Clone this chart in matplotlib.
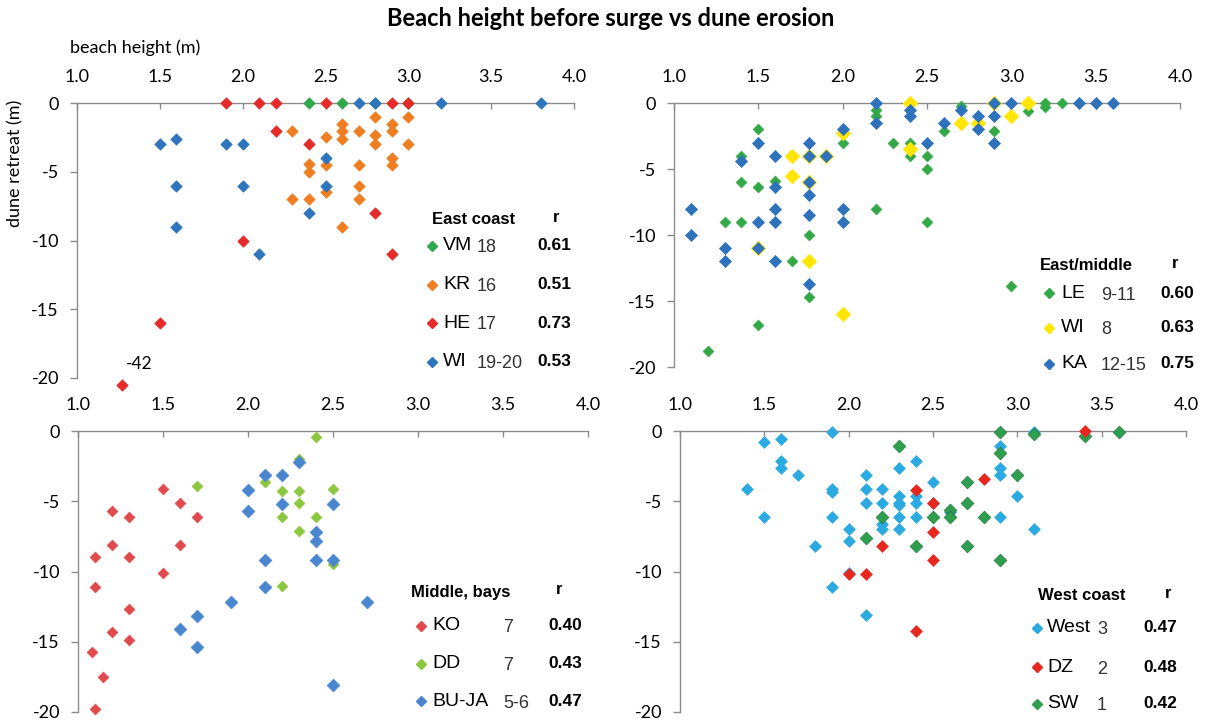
import matplotlib
matplotlib.use("Agg")
import matplotlib.pyplot as plt
from matplotlib.lines import Line2D

plt.rcParams['axes.unicode_minus'] = False
plt.rcParams['font.family'] = ['Lato', 'DejaVu Sans']

W, H = 1214, 723

# ---------------- data ----------------
x_ticks = [1.0, 1.5, 2.0, 2.5, 3.0, 3.5, 4.0]
x_tick_labels = ["1.0", "1.5", "2.0", "2.5", "3.0", "3.5", "4.0"]
y_ticks = [0, -5, -10, -15, -20]
y_tick_labels = ["0", "-5", "-10", "-15", "-20"]

# East coast
vm_x = [2.4, 2.6, 2.8, 3.0]
vm_y = [0, 0, 0, 0]
kr_x = [2.8, 2.9, 3.0, 2.6, 2.6, 2.6, 2.7, 2.3, 2.9, 2.8, 2.5, 2.8, 3.0, 2.4, 2.4, 2.5,
        2.7, 2.9, 2.9, 2.7, 2.7, 2.5, 2.3, 2.4, 2.6]
kr_y = [-1, -1.5, -1, -1.5, -2, -2.6, -2, -2, -2, -2.3, -2.5, -3, -3, -4.4, -5, -4.5,
        -4.5, -4, -4.5, -6, -7, -6.5, -7, -7, -9]
he_x = [1.9, 2.1, 2.2, 2.5, 2.9, 3.0, 2.2, 2.4, 2.8, 2.0, 2.9, 1.5, 1.27]
he_y = [0, 0, 0, 0, 0, 0, -2, -3, -8, -10, -11, -16, -20.5]
wi1_x = [2.7, 2.8, 3.2, 3.8, 1.5, 1.6, 1.9, 2.0, 1.6, 2.0, 1.6, 2.1, 2.5, 2.5, 2.4]
wi1_y = [0, 0, 0, 0, -3, -2.6, -3, -3, -6, -6, -9, -11, -4, -6, -8]

# East/middle
le_x = [1.5, 2.2, 2.2, 2.4, 2.3, 2.4, 2.5, 2.5, 2.0, 2.6, 2.7, 2.9, 3.1, 3.2, 3.2, 3.3,
        1.4, 1.4, 1.5, 1.6, 1.3, 1.4, 2.2, 2.5, 1.8, 1.7, 1.8, 1.5, 1.2, 3.0]
le_y = [-2, -0.5, -1, -3, -3, -4, -4, -5, -3, -2.1, -0.2, -2.1, -0.6, 0, -0.3, 0,
        -4, -6, -6.4, -5.9, -9, -9, -8, -9, -10, -12, -14.7, -16.8, -18.8, -13.9]
wi2_x = [2.4, 2.9, 3.1, 3.0, 2.7, 2.8, 2.0, 2.4, 1.7, 1.8, 1.9, 1.7, 1.8, 1.5, 1.8, 2.0]
wi2_y = [0, 0, 0, -1, -1.5, -1.5, -2.3, -3.5, -4, -4, -4, -5.5, -6, -11, -12, -16]
ka_x = [2.2, 2.2, 2.4, 2.4, 2.9, 3.0, 3.4, 3.5, 3.6, 2.7, 2.8, 2.8, 2.9, 2.9, 2.6, 2.0,
        2.5, 1.8, 1.5, 1.4, 1.6, 1.8, 1.9, 1.8, 1.6, 1.8, 1.1, 1.6, 2.0, 1.5, 1.6, 1.8,
        2.0, 1.1, 1.3, 1.3, 1.5, 1.6, 1.8]
ka_y = [0, -1.5, -0.5, -1, 0, 0, 0, 0, 0, -0.5, -1, -2, -1, -3, -1.5, -2,
        -3, -3, -3, -4.4, -4, -4, -4, -6, -6.4, -7, -8, -8, -8, -9, -9, -8.5,
        -9, -10, -11, -12, -11, -12, -13.7]

# Middle, bays
ko_x = [1.5, 1.6, 1.2, 1.3, 1.7, 1.2, 1.6, 1.1, 1.3, 1.5, 1.1, 1.3, 1.2, 1.3, 1.08, 1.15, 1.1]
ko_y = [-4.1, -5.1, -5.7, -6.1, -6.1, -8.1, -8.1, -9, -9, -10.1, -11.1, -12.7, -14.3,
        -14.9, -15.7, -17.5, -19.8]
dd_x = [2.4, 2.3, 2.1, 1.7, 2.2, 2.3, 2.5, 2.3, 2.2, 2.4, 2.3, 2.2, 2.5]
dd_y = [-0.4, -2, -3.6, -3.9, -4.3, -4.3, -4.1, -5.1, -6.1, -6.1, -7.1, -11, -9.5]
bu_x = [2.0, 2.0, 2.1, 2.2, 2.2, 2.3, 2.5, 2.4, 2.4, 2.1, 2.4, 2.5, 2.1, 1.9, 2.7, 1.7,
        1.6, 1.7, 2.5]
bu_y = [-4.2, -5.7, -3.1, -3.1, -5.2, -2.2, -5.2, -7.2, -7.8, -9.2, -9.2, -9.2, -11.1,
        -12.2, -12.2, -13.2, -14.1, -15.4, -18.1]

# West coast
west_x = [1.9, 1.5, 1.6, 1.6, 1.6, 1.7, 1.4, 1.5, 1.9, 1.9, 1.9, 2.0, 2.0, 1.8, 2.1, 2.1,
          2.1, 2.2, 2.2, 2.2, 2.2, 2.3, 2.3, 2.3, 2.3, 2.3, 2.3, 2.4, 2.4, 2.4, 2.4, 2.5,
          2.5, 2.9, 2.9, 2.9, 2.9, 3.0, 3.1, 3.1, 2.6, 2.0, 1.9, 2.1]
west_y = [-0.1, -0.8, -0.6, -2.1, -2.6, -3.1, -4.1, -6.1, -4.1, -4.35, -6.1, -7.0, -7.8,
          -8.2, -3.1, -4.1, -5.1, -4.1, -5.1, -6.6, -7.0, -2.6, -4.6, -5.1, -5.3, -6.1,
          -7.0, -2.1, -4.6, -5.1, -6.1, -3.6, -5.1, -1.1, -2.6, -3.1, -6.1, -4.6, -7.0,
          -0.1, -5.8, -10.1, -11.1, -13.1]
dz_x = [3.4, 2.4, 2.5, 2.5, 2.8, 2.2, 2.5, 2.0, 2.1, 2.4]
dz_y = [0, -4.2, -5.1, -7.2, -3.4, -8.2, -9.2, -10.2, -10.2, -14.2]
sw_x = [2.9, 3.1, 3.4, 3.6, 2.3, 2.9, 3.0, 2.7, 2.7, 2.6, 2.6, 2.2, 2.5, 2.8, 2.1, 2.4,
        2.7, 2.9]
sw_y = [-0.1, -0.2, -0.35, -0.1, -1.1, -1.6, -3.1, -3.6, -5.1, -5.6, -6.1, -6.1, -6.1,
        -6.1, -7.6, -8.2, -8.2, -9.2]

# legend content
leg_east = [("VM", "18", "0.61"), ("KR", "16", "0.51"), ("HE", "17", "0.73"), ("WI", "19-20", "0.53")]
leg_em = [("LE", "9-11", "0.60"), ("WI", "8", "0.63"), ("KA", "12-15", "0.75")]
leg_mid = [("KO", "7", "0.40"), ("DD", "7", "0.43"), ("BU-JA", "5-6", "0.47")]
leg_west = [("West", "3", "0.47"), ("DZ", "2", "0.48"), ("SW", "1", "0.42")]

# ---------------- figure ----------------
fig = plt.figure(figsize=(W / 100, H / 100), dpi=100)

def ax_at(x0, x1, y0, y1):
    return fig.add_axes([x0 / W, 1 - y1 / H, (x1 - x0) / W, (y1 - y0) / H])

GRAY = '#8c8c8c'

def style(ax):
    ax.set_xlim(1.0, 4.0)
    ax.set_ylim(-20, 0)
    for s in ['bottom', 'right']:
        ax.spines[s].set_visible(False)
    for s in ['top', 'left']:
        ax.spines[s].set_color(GRAY)
        ax.spines[s].set_linewidth(1.0)
    ax.xaxis.tick_top()
    ax.set_xticks(x_ticks)
    ax.set_xticklabels(x_tick_labels)
    ax.set_yticks(y_ticks)
    ax.set_yticklabels(y_tick_labels)
    ax.tick_params(axis='x', direction='in', length=4, width=1.0, color=GRAY,
                   pad=13, labelsize=13)
    ax.tick_params(axis='y', direction='out', length=5, width=1.0, color=GRAY,
                   pad=8, labelsize=13)
    ax.patch.set_alpha(0)

def sc(ax, x, y, color, s=34, ec=None, z=3):
    ax.scatter(x, y, marker='D', s=s, color=color, edgecolors=ec if ec else color,
               linewidths=0.5, clip_on=False, zorder=z)

C_VM, C_KR, C_HE, C_WI = '#2EA84A', '#F07E20', '#E62A2A', '#2E74BE'
C_LE, C_WI2, C_KA = '#33A847', '#FFE600', '#2E72BC'
C_KO, C_DD, C_BU = '#E04A4C', '#8DC63F', '#4A86CF'
C_WE, C_DZ, C_SW = '#2BAAE2', '#E8281E', '#2E9E4F'

# top-left
ax1 = ax_at(77, 574, 103, 378)
style(ax1)
sc(ax1, vm_x, vm_y, C_VM)
sc(ax1, kr_x, kr_y, C_KR)
sc(ax1, he_x, he_y, C_HE)
sc(ax1, wi1_x, wi1_y, C_WI)
ax1.annotate("-42", xy=(he_x[-1], he_y[-1]), xytext=(3, 9), textcoords='offset points',
             fontsize=12.5, ha='left', va='bottom', annotation_clip=False)

# top-right
ax2 = ax_at(674, 1180, 103, 367)
style(ax2)
sc(ax2, le_x, le_y, C_LE, s=30)
sc(ax2, wi2_x, wi2_y, C_WI2, s=55)
sc(ax2, ka_x, ka_y, C_KA, s=38)

# bottom-left
ax3 = ax_at(78, 588, 431, 712)
style(ax3)
sc(ax3, ko_x, ko_y, C_KO, s=30)
sc(ax3, dd_x, dd_y, C_DD, s=30)
sc(ax3, bu_x, bu_y, C_BU, s=42)

# bottom-right
ax4 = ax_at(680, 1186, 431, 712)
style(ax4)
sc(ax4, west_x, west_y, C_WE, s=36)
sc(ax4, sw_x, sw_y, C_SW, s=42, ec='#1F7A3A')
sc(ax4, dz_x, dz_y, C_DZ, s=36)

# titles
fig.text(611 / W, 1 - 19 / H, "Beach height before surge vs dune erosion", ha='center',
         va='center', fontsize=17, fontweight='bold', family=['Lato', 'DejaVu Sans'])
fig.text(70 / W, 1 - 48 / H, "beach height (m)", ha='left', va='center', fontsize=13)
fig.text(15 / W, 1 - 163 / H, "dune retreat (m)", ha='center', va='center', fontsize=13,
         rotation=90)

BOLD = ['Liberation Sans', 'DejaVu Sans']
NARROW = ['Liberation Sans Narrow', 'Liberation Sans', 'DejaVu Sans']

def legend(title, title_xy, r_x, rows, row_ys, colors, mx, name_x, num_x, r_val_x):
    fig.text(title_xy[0] / W, 1 - title_xy[1] / H, title, ha='left', va='center',
             fontsize=12, fontweight='bold', family=BOLD)
    fig.text(r_x / W, 1 - (title_xy[1] - 2) / H, "r", ha='left', va='center',
             fontsize=12, fontweight='bold', family=BOLD)
    for (name, num, r), yy, col in zip(rows, row_ys, colors):
        fig.add_artist(Line2D([mx / W], [1 - yy / H], marker='D', markersize=5.5,
                              color=col, transform=fig.transFigure, linestyle='none'))
        fig.text(name_x / W, 1 - yy / H, name, ha='left', va='center', fontsize=14,
                 family=NARROW)
        fig.text(num_x / W, 1 - (yy + 2) / H, num, ha='left', va='center', fontsize=13,
                 family=NARROW, color='#333333')
        fig.text(r_val_x / W, 1 - yy / H, r, ha='left', va='center', fontsize=12.5,
                 fontweight='bold', family=BOLD)

legend("East coast", (432, 220), 553, leg_east, [246, 285, 323, 362],
       [C_VM, C_KR, C_HE, C_WI], 432, 443, 477, 537)
legend("East/middle", (1040, 266), 1172, leg_em, [293, 328, 364],
       [C_LE, C_WI2, C_KA], 1049, 1061, 1101, 1160)
legend("Middle, bays", (411, 592), 556, leg_mid, [626, 664, 701],
       [C_KO, C_DD, C_BU], 421, 432, 503, 548)
legend("West coast", (1038, 596), 1165, leg_west, [628, 667, 704],
       [C_WE, C_DZ, C_SW], 1037, 1047, 1097, 1143)

fig.savefig("out.png", dpi=100)
